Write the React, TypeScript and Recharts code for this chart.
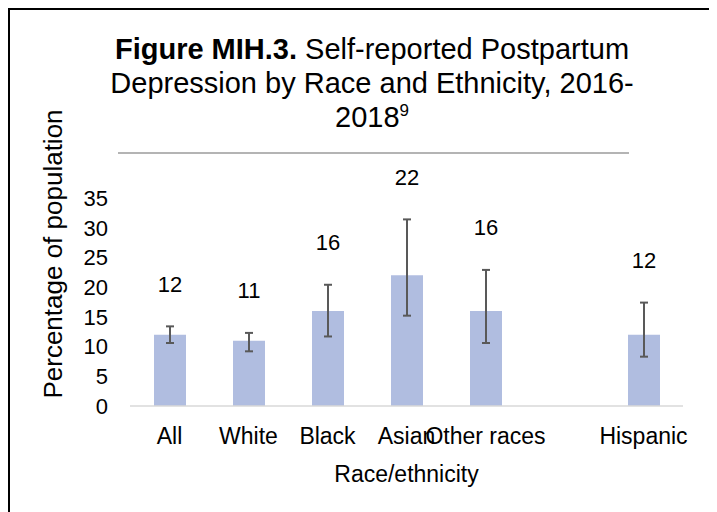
import { BarChart, Bar, XAxis, YAxis, ErrorBar, LabelList } from "recharts"

const categories = ["All", "White", "Black", "Asian", "Other races", "", "Hispanic"]
const percent = [12, 11, 16, 22, 16, null, 12]
const ciLow = [10.6, 9.2, 11.7, 15.2, 10.6, null, 8.3]
const ciHigh = [13.4, 12.3, 20.4, 31.4, 22.9, null, 17.4]
const yTicks = [0, 5, 10, 15, 20, 25, 30, 35]

const data = categories.map((name, i) => {
  const v = percent[i]
  const lo = ciLow[i]
  const hi = ciHigh[i]
  return {
    name,
    value: v,
    hi,
    err: v != null && lo != null && hi != null ? [v - lo, hi - v] : undefined,
  }
})

const font = "Arial, 'Liberation Sans', sans-serif"

// label sits a fixed distance above the top of the error bar
const ValueLabel = (props: any) => {
  const { x, y, width, height, value } = props
  if (!value || value.value == null) return null
  const pxPerUnit = height / value.value
  const errTop = y + height - value.hi * pxPerUnit
  return (
    <text x={x + width / 2} y={errTop - 42} textAnchor="middle" dominantBaseline="central" fontSize={22} fill="#000" fontFamily={font}>
      {value.value}
    </text>
  )
}

export default function App() {
  return (
    <div style={{ position: "relative", width: 705, height: 504, fontFamily: font }}>
      <div
        style={{
          position: "absolute",
          left: 0,
          top: 0,
          width: 705,
          height: 520,
          border: "2px solid #000",
          boxSizing: "border-box",
        }}
      />
      <div
        style={{
          position: "absolute",
          left: 44,
          top: 24,
          width: 640,
          textAlign: "center",
          fontSize: 29,
          lineHeight: "34px",
          color: "#000",
        }}
      >
        <b>Figure MIH.3.</b> Self-reported Postpartum
        <br />
        Depression by Race and Ethnicity, 2016-
        <br />
        2018<sup style={{ fontSize: 17, lineHeight: 0, verticalAlign: "11px" }}>9</sup>
      </div>
      <div style={{ position: "absolute", left: 110, top: 144, width: 511, height: 2, background: "#B4B4B4" }} />
      <svg style={{ position: "absolute", left: 0, top: 0 }} width={80} height={504}>
        <text x={45} y={246} transform="rotate(-90 45 246)" textAnchor="middle" dominantBaseline="central" fontSize={26} fontFamily={font} fill="#000">
          Percentage of population
        </text>
      </svg>
      <div style={{ position: "absolute", left: 0, top: 0 }}>
        <BarChart width={705} height={504} data={data} margin={{ top: 190, right: 30, bottom: 0, left: 62 }}>
          <XAxis
            dataKey="name"
            axisLine={{ stroke: "#D9D9D9", strokeWidth: 1.5 }}
            tickLine={false}
            tickSize={0}
            tickMargin={22}
            height={106}
            interval={0}
            tick={{ fontSize: 23, fill: "#000", fontFamily: font }}
            label={{ value: "Race/ethnicity", position: "insideBottom", offset: 30, fontSize: 23, fill: "#000", fontFamily: font }}
          />
          <YAxis
            domain={[0, 35]}
            ticks={yTicks}
            width={60}
            axisLine={false}
            tickLine={false}
            tickSize={0}
            tickMargin={22}
            interval={0}
            tick={{ fontSize: 22, fill: "#000", fontFamily: font }}
          />
          <Bar dataKey="value" fill="#B0BDE0" isAnimationActive={false} barSize={32}>
            <ErrorBar dataKey="err" width={4} stroke="#595959" strokeWidth={2} direction="y" />
            <LabelList dataKey={(d: any) => d} content={ValueLabel} />
          </Bar>
        </BarChart>
      </div>
    </div>
  )
}
